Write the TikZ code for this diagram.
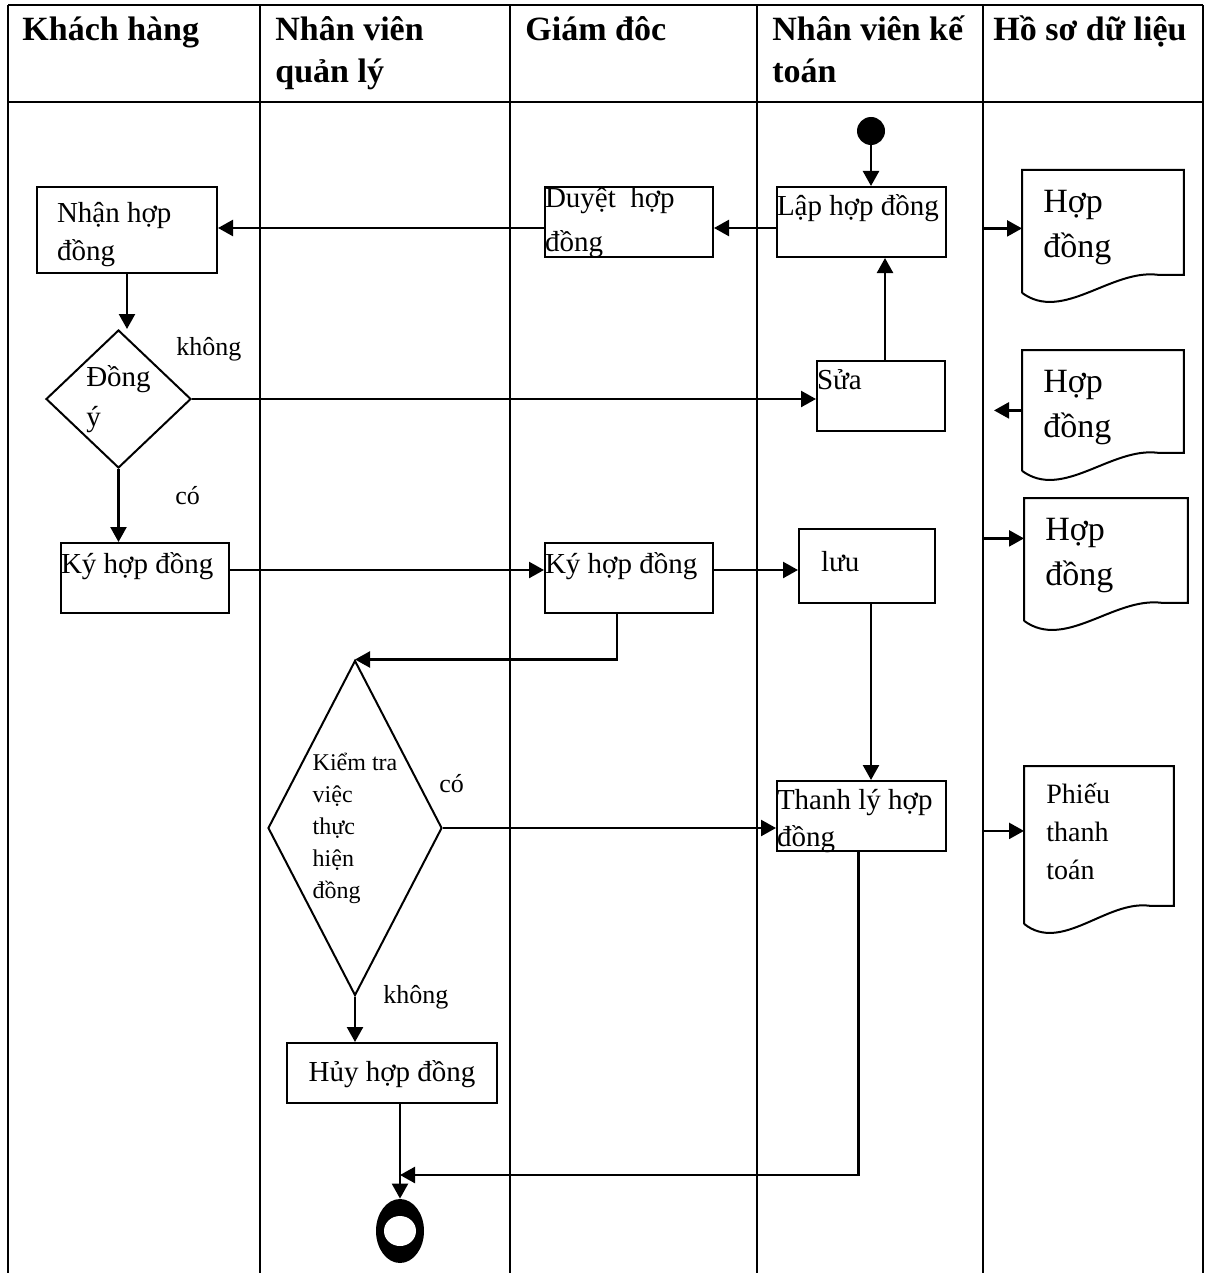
\documentclass[tikz,border=0pt]{standalone}
\usepackage{fontspec}
\setmainfont{Liberation Serif}
\usetikzlibrary{positioning,arrows.meta,shapes.geometric,calc}

% texte cale en haut a gauche dans une boite de taille fixe
\newcommand{\cellbox}[4]{\parbox[t][#2][t]{#1}{\raggedright\rule{0pt}{#3}#4}}
% contour d'un document (bas ondule)
\newcommand{\docoutline}[1]{%
  \draw[line width=1pt] (#1.south west) -- (#1.north west) -- (#1.north east)
    -- ($(#1.south east)+(0,-18)$) -- ($(#1.south west)!0.84!(#1.south east)+(0,-18)$)
    .. controls ($(#1.south west)!0.55!(#1.south east)+(0,-24)$)
    and ($(#1.south west)!0.25!(#1.south east)+(0,30)$) .. (#1.south west);}

\begin{document}
\begin{tikzpicture}[x=0.5pt, y=-0.5pt,
  lane/.style={line width=1pt},
  hdr/.style={anchor=north west, inner sep=0pt, font=\fontsize{17}{21}\selectfont\bfseries},
  box/.style={draw, line width=1pt, anchor=north west, inner sep=0pt,
    font=\fontsize{14.5}{19}\selectfont},
  dec/.style={draw, diamond, line width=1pt, inner sep=0pt, align=left},
  doc/.style={anchor=north west, inner sep=0pt},
  lbl/.style={anchor=base west, inner sep=0pt, font=\fontsize{13}{16}\selectfont},
  fl/.style={-{Triangle[length=7.5pt,width=8pt]}, line width=1.2pt}
]
  \useasboundingbox (0,0) rectangle (1211,1273);

  % --- Couloirs ---
  \foreach \lx in {8,260,510,757,983,1203}
    \draw[lane] (\lx,5) -- (\lx,1273);
  \draw[lane] (8,5) -- (1203,5);
  \draw[lane] (8,102) -- (1203,102);
  \coordinate (hsl) at (983,102);

  \node[hdr] (hKH) at (22,5)  {\cellbox{115pt}{45pt}{17.5pt}{Khách hàng}};
  \node[hdr] (hQL) at (275,5) {\cellbox{115pt}{45pt}{17.5pt}{Nhân viên\\quản lý}};
  \node[hdr] (hGD) at (525,5) {\cellbox{110pt}{45pt}{17.5pt}{Giám đôc}};
  \node[hdr] (hKT) at (772,5) {\cellbox{105pt}{45pt}{17.5pt}{Nhân viên kế\\toán}};
  \node[hdr] (hHS) at (993,5) {\cellbox{105pt}{45pt}{17.5pt}{Hồ sơ dữ liệu}};

  % --- Noeuds ---
  \node[fill, circle, minimum size=14pt, inner sep=0pt] (start) at (871,131) {};

  \node[box] (lap)   at (776,186) {\cellbox{84.5pt}{35pt}{14.5pt}{Lập hợp đồng}};
  \node[box, font=\fontsize{14.5}{21.5}\selectfont] (duyet) at (544,186)
    {\cellbox{84pt}{35pt}{10.5pt}{Duyệt\ \ hợp\\đồng}};
  \node[box] (nhan)  at (36,186)  {\cellbox{90pt}{43pt}{18pt}{\leftskip=10pt Nhận hợp\\đồng}};
  \node[box] (sua)   at (816,360) {\cellbox{64pt}{35pt}{14pt}{Sửa}};
  \node[box] (ky1)   at (60,542)  {\cellbox{84pt}{35pt}{15pt}{Ký hợp đồng}};
  \node[box] (ky2)   at (544,542) {\cellbox{84pt}{35pt}{15pt}{Ký hợp đồng}};
  \node[box] (luu)   at (798,528) {\cellbox{68pt}{37pt}{21pt}{\leftskip=11pt lưu}};
  \node[box, font=\fontsize{14.5}{18.5}\selectfont] (thanh) at (776,780)
    {\cellbox{84.5pt}{35pt}{14pt}{Thanh lý hợp\\đồng}};
  \node[box] (huy)   at (286,1042) {\cellbox{105pt}{30pt}{19pt}{\centering Hủy hợp đồng}};

  \node[dec, minimum width=72.5pt, minimum height=69pt,
    font=\fontsize{14.5}{20}\selectfont] (d1) at (118.5,399) {Đồng\\ý};
  \node[dec, minimum width=87pt, minimum height=167.5pt, aspect=0.52,
    font=\fontsize{12}{16}\selectfont] (d2) at (355,828)
    {Kiểm tra\\việc\\thực\\hiện\\đồng};

  \node[fill, ellipse, minimum width=24pt, minimum height=32pt, inner sep=0pt] (fin) at (400,1231) {};
  \node[fill=white, ellipse, minimum width=16pt, minimum height=15pt, inner sep=0pt] (finhole) at (fin.center) {};
  \coordinate (jn) at (400,1175);

  % --- Documents ---
  \node[doc, font=\fontsize{17}{22.5}\selectfont] (doc1) at (1022,170)
    {\cellbox{80.5pt}{61pt}{21pt}{\leftskip=10.5pt Hợp\\đồng}};
  \node[doc, font=\fontsize{17}{22.5}\selectfont] (doc2) at (1022,350)
    {\cellbox{80.5pt}{60pt}{21pt}{\leftskip=10.5pt Hợp\\đồng}};
  \node[doc, font=\fontsize{17}{22.5}\selectfont] (doc3) at (1024,498)
    {\cellbox{81.5pt}{61pt}{21pt}{\leftskip=10.5pt Hợp\\đồng}};
  \node[doc, font=\fontsize{14}{19}\selectfont] (doc4) at (1024,766)
    {\cellbox{74.5pt}{78.5pt}{18.5pt}{\leftskip=11pt Phiếu\\thanh\\toán}};
  \docoutline{doc1}
  \docoutline{doc2}
  \docoutline{doc3}
  \docoutline{doc4}

  % --- Libelles ---
  \node[lbl] (lNon1) at (176,355)  {không};
  \node[lbl] (lOui1) at (175,504)  {có};
  \node[lbl] (lOui2) at (439,792)  {có};
  \node[lbl] (lNon2) at (383,1003) {không};

  % --- Fleches ---
  \draw[fl] (start) -- (start |- lap.north);
  \draw[fl] ([yshift=-3pt]lap.west) -- ([yshift=-3pt]lap.west -| duyet.east);
  \draw[fl] ([yshift=-3pt]duyet.west) -- ([yshift=-3pt]duyet.west -| nhan.east);
  \draw[fl] (nhan.south) -- (nhan.south |- d1.north);
  \draw[fl] (d1.east) -- (d1.east -| sua.west);
  \draw[fl] ([xshift=2pt]sua.north) -- ([xshift=2pt]sua.north |- lap.south);
  \draw[fl] (d1.south) -- (d1.south |- ky1.north);
  \draw[fl] ([yshift=4pt]ky1.east) -- ([yshift=4pt]ky2.west);
  \draw[fl] ([yshift=4pt]ky2.east) -- ([yshift=4pt]ky2.east -| luu.west);
  \draw[fl] ([xshift=2pt]luu.south) -- ([xshift=2pt]luu.south |- thanh.north);
  \draw[fl] ([xshift=-6pt]ky2.south) |- (d2.north);
  \draw[fl] (d2.east) -- (d2.east -| thanh.west);
  \draw[fl] (d2.south) -- (d2.south |- huy.north);
  \draw[fl] (huy.south -| fin.north) -- (fin.north);
  \draw[fl] ([xshift=-1.5pt]thanh.south) |- (jn);

  % vers / depuis le dossier
  \draw[fl] ($(hsl |- doc1.west)+(0,-3)$) -- ($(doc1.west)+(0,-3)$);
  \draw[fl] (doc2.west) -- ($(hsl |- doc2.west)+(11,0)$);
  \draw[fl] ($(hsl |- doc3.west)+(0,-21)$) -- ($(doc3.west)+(0,-21)$);
  \draw[fl] ($(hsl |- doc4.west)+(0,-14)$) -- ($(doc4.west)+(0,-14)$);

\end{tikzpicture}
\end{document}
